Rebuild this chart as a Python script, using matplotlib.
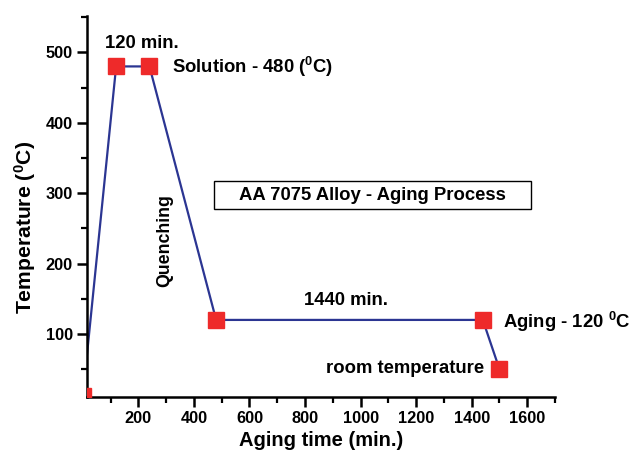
import matplotlib
matplotlib.use("Agg")
import matplotlib.pyplot as plt
from matplotlib.ticker import MultipleLocator
from matplotlib.patches import Rectangle

plt.rcParams['font.family'] = ['Liberation Sans', 'DejaVu Sans']
plt.rcParams['font.weight'] = 'bold'
plt.rcParams['mathtext.fontset'] = 'custom'
plt.rcParams['mathtext.rm'] = 'Liberation Sans:bold'
plt.rcParams['mathtext.bf'] = 'Liberation Sans:bold'
plt.rcParams['mathtext.it'] = 'Liberation Sans:bold'

# Data
time_min = [0, 120, 240, 480, 1440, 1500]
temperature_c = [12, 480, 480, 120, 120, 50]
x_ticks = [200, 400, 600, 800, 1000, 1200, 1400, 1600]
y_ticks = [100, 200, 300, 400, 500]

fig = plt.figure(figsize=(6.3, 4.57), dpi=100)
ax = fig.add_axes([0.1376, 0.132, 0.881 - 0.1376, 0.9656 - 0.132])

ax.plot(time_min, temperature_c, color='#2B3592', lw=1.6, zorder=2)
ax.plot(time_min, temperature_c, ls='none', marker='s', ms=11.5,
        color='#EE2A2A', mec='#EE2A2A', zorder=3)

ax.set_xlim(14, 1700)
ax.set_ylim(11, 552)
ax.set_xticks(x_ticks)
ax.set_yticks(y_ticks)
ax.xaxis.set_minor_locator(MultipleLocator(100))
ax.yaxis.set_minor_locator(MultipleLocator(50))
ax.tick_params(which='major', direction='out', length=7, width=1.8, labelsize=11.8, pad=3)
ax.tick_params(which='minor', direction='out', length=4.5, width=1.6)
for lab in ax.get_xticklabels() + ax.get_yticklabels():
    lab.set_fontweight('bold')

for s in ['top', 'right']:
    ax.spines[s].set_visible(False)
for s in ['left', 'bottom']:
    ax.spines[s].set_linewidth(1.8)

ax.set_xlabel('Aging time (min.)', fontsize=14.5, fontweight='bold', labelpad=4)
ax.set_ylabel(r'Temperature ($^0$C)', fontsize=15.2, fontweight='bold')
ax.yaxis.set_label_coords(-0.103, 0.445)

fs = 13.3
ax.text(214, 512, '120 min.', fontsize=fs, fontweight='bold', ha='center', va='center')
ax.text(322, 479.5, r'Solution - 480 ($^0$C)', fontsize=fs, fontweight='bold', ha='left', va='center')
ax.add_patch(Rectangle((473, 277.4), 1614 - 473, 317.2 - 277.4, fc='white', ec='black',
                       lw=1.0, zorder=1))
ax.text(1044, 297, 'AA 7075 Alloy - Aging Process', fontsize=fs, fontweight='bold',
        ha='center', va='center', zorder=4)
ax.text(296, 232, 'Quenching', fontsize=12.8, fontweight='bold', rotation=90,
        ha='center', va='center')
ax.text(948, 147, '1440 min.', fontsize=fs, fontweight='bold', ha='center', va='center')
ax.text(1513, 117, r'Aging - 120 $^0$C', fontsize=fs, fontweight='bold', ha='left', va='center',
        clip_on=False)
ax.text(1444, 51, 'room temperature', fontsize=fs, fontweight='bold', ha='right', va='center')

fig.savefig('out.png', dpi=100)
